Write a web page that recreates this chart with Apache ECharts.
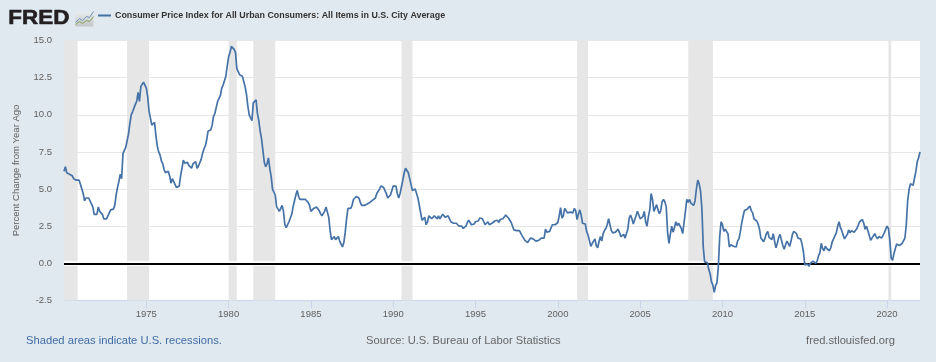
<!DOCTYPE html>
<html>
<head>
<meta charset="utf-8">
<title>FRED CPI</title>
<script src="https://cdn.jsdelivr.net/npm/echarts@6/dist/echarts.min.js"></script>
<style>
    html, body { margin: 0; padding: 0; background: #e1e9f0; }
    #chart { width: 936px; height: 362px; }
</style>
</head>
<body>
<div id="chart"></div>
<script>
    var seriesName = 'Consumer Price Index for All Urban Consumers: All Items in U.S. City Average';
    var firstYear = 1970;
    // percent change from year ago, monthly (one row per year)
    var cpiYoY = [
        6.2, 6.5, 6.1, 6.0, 6.0, 5.9, 5.9, 5.7, 5.7, 5.6, 5.6, 5.6,
        5.3, 5.0, 4.7, 4.2, 4.4, 4.45, 4.4, 4.4, 4.0, 3.8, 3.3, 3.3,
        3.3, 3.8, 3.5, 3.5, 3.3, 3.0, 3.0, 3.0, 3.2, 3.4, 3.6, 3.5,
        3.65, 3.9, 4.6, 5.1, 5.5, 6.0, 5.7, 7.4, 7.4, 7.8, 8.25, 8.7,
        9.4, 10.0, 10.2, 10.1, 10.7, 10.9, 11.5, 10.9, 11.9, 12.0, 12.2, 12.0,
        11.8, 11.2, 10.25, 10.2, 9.3, 9.2, 9.5, 8.6, 7.9, 7.5, 7.3, 6.9,
        6.7, 6.3, 6.1, 6.0, 6.2, 5.9, 5.4, 5.7, 5.5, 5.4, 5.1, 5.1,
        5.2, 5.9, 6.4, 6.95, 6.75, 6.85, 6.8, 6.6, 6.6, 6.4, 6.7, 6.7,
        6.85, 6.4, 6.55, 6.5, 7.0, 7.4, 7.7, 7.9, 8.3, 8.9, 8.9, 9.0,
        9.3, 9.9, 10.1, 10.5, 10.9, 10.9, 11.3, 11.8, 12.0, 12.0, 12.6, 13.3,
        13.9, 14.2, 14.6, 14.6, 14.4, 14.2, 13.1, 12.9, 12.7, 12.7, 12.6, 12.5,
        11.9, 11.4, 10.6, 10.0, 9.8, 9.6, 10.8, 10.8, 11.0, 10.1, 9.6, 8.9,
        8.4, 7.6, 6.8, 6.5, 6.7, 7.1, 6.4, 5.85, 5.0, 5.1, 4.6, 3.8,
        3.7, 3.5, 3.6, 3.9, 3.5, 2.6, 2.4, 2.5, 2.8, 2.9, 3.3, 3.8,
        4.2, 4.6, 4.9, 4.5, 4.3, 4.3, 4.3, 4.3, 4.3, 4.2, 4.1, 3.9,
        3.5, 3.6, 3.7, 3.6, 3.8, 3.7, 3.55, 3.35, 3.2, 3.2, 3.5, 3.8,
        3.9, 3.1, 2.2, 1.6, 1.5, 1.8, 1.6, 1.6, 1.8, 1.5, 1.3, 1.1,
        1.4, 2.1, 3.0, 3.7, 3.8, 3.7, 3.9, 4.3, 4.3, 4.5, 4.5, 4.4,
        4.1, 3.9, 3.9, 3.9, 3.9, 4.0, 4.1, 4.1, 4.2, 4.25, 4.3, 4.4,
        4.7, 4.8, 5.0, 5.2, 5.3, 5.1, 5.0, 4.7, 4.4, 4.5, 4.6, 4.6,
        5.2, 5.3, 5.2, 4.7, 4.4, 4.7, 4.8, 5.6, 6.1, 6.4, 6.3, 6.1,
        5.7, 5.3, 4.9, 4.9, 5.0, 4.7, 4.4, 3.9, 3.4, 2.9, 3.0, 3.1,
        2.6, 2.8, 3.2, 3.1, 3.0, 3.1, 3.2, 3.1, 3.0, 3.2, 3.0, 2.9,
        3.3, 3.2, 3.1, 3.2, 3.2, 3.0, 2.8, 2.8, 2.7, 2.8, 2.7, 2.75,
        2.5, 2.5, 2.5, 2.35, 2.3, 2.5, 2.75, 2.9, 2.95, 2.6, 2.7, 2.65,
        2.8, 2.85, 2.85, 3.05, 3.15, 3.0, 2.8, 2.6, 2.55, 2.8, 2.6, 2.6,
        2.7, 2.7, 2.85, 2.9, 2.9, 2.75, 2.95, 2.9, 3.0, 3.0, 3.25, 3.35,
        3.05, 3.0, 2.75, 2.5, 2.25, 2.3, 2.2, 2.2, 2.2, 2.1, 1.85, 1.7,
        1.55, 1.45, 1.4, 1.45, 1.7, 1.7, 1.65, 1.6, 1.5, 1.5, 1.55, 1.6,
        1.7, 1.6, 1.7, 2.3, 2.1, 2.0, 2.15, 2.25, 2.6, 2.55, 2.6, 2.7,
        2.75, 3.2, 3.75, 3.05, 3.2, 3.7, 3.65, 3.4, 3.45, 3.45, 3.45, 3.4,
        3.7, 3.55, 2.95, 3.3, 3.6, 3.25, 2.7, 2.7, 2.65, 2.15, 1.9, 1.55,
        1.15, 1.15, 1.5, 1.65, 1.2, 1.05, 1.45, 1.8, 1.5, 2.0, 2.2, 2.35,
        2.6, 3.0, 3.05, 2.2, 2.05, 2.1, 2.1, 2.15, 2.3, 2.05, 1.8, 1.9,
        1.95, 1.7, 1.75, 2.3, 3.05, 3.25, 3.0, 2.65, 2.55, 3.2, 3.5, 3.25,
        3.0, 3.0, 3.15, 3.5, 2.8, 2.5, 3.15, 3.6, 4.7, 4.3, 3.5, 3.4,
        3.95, 3.6, 3.35, 3.55, 4.15, 4.3, 4.15, 3.8, 2.1, 1.35, 1.95, 2.5,
        2.1, 2.4, 2.8, 2.55, 2.7, 2.7, 2.35, 2.0, 2.75, 3.5, 4.3, 4.1,
        4.3, 4.05, 4.0, 3.9, 4.2, 5.0, 5.6, 5.35, 4.9, 3.7, 1.1, 0.1,
        0.05, 0.05, -0.4, -0.7, -1.25, -1.45, -1.95, -1.5, -1.3, -0.2, 1.8, 2.8,
        2.6, 2.15, 2.3, 2.25, 2.0, 1.1, 1.25, 1.15, 1.15, 1.2, 1.1, 1.5,
        1.65, 2.1, 2.7, 3.15, 3.55, 3.55, 3.65, 3.75, 3.85, 3.55, 3.4, 3.0,
        2.9, 2.85, 2.65, 2.3, 1.7, 1.65, 1.45, 1.7, 2.0, 2.15, 1.75, 1.75,
        1.6, 2.0, 1.5, 1.05, 1.35, 1.75, 1.95, 1.55, 1.2, 0.95, 1.25, 1.5,
        1.6, 1.15, 1.5, 1.95, 2.15, 2.05, 2.0, 1.7, 1.65, 1.65, 1.3, 0.8,
        -0.1, -0.05, -0.05, -0.2, 0.0, 0.1, 0.15, 0.2, 0.0, 0.15, 0.5, 0.7,
        1.35, 1.0, 0.85, 1.15, 1.0, 1.0, 0.85, 1.05, 1.45, 1.65, 1.7, 2.05,
        2.5, 2.8, 2.4, 2.2, 1.9, 1.65, 1.75, 1.95, 2.25, 2.05, 2.2, 2.1,
        2.1, 2.2, 2.35, 2.45, 2.8, 2.85, 2.95, 2.7, 2.3, 2.5, 2.2, 1.9,
        1.55, 1.5, 1.85, 2.0, 1.8, 1.65, 1.8, 1.75, 1.7, 1.75, 2.05, 2.3,
        2.5, 2.35, 1.55, 0.35, 0.2, 0.65, 1.0, 1.3, 1.4, 1.2, 1.15, 1.35,
        1.4, 1.7, 2.6, 4.2, 4.95, 5.35, 5.3, 5.25, 5.35, 6.2, 6.85, 7.1,
        7.5
    ];
    // U.S. recessions as fractional years (first one is clipped at the axis start)
    var recessionStart = [1970, 1973.83, 1980, 1981.5, 1990.5, 2001.17, 2007.92, 2020.08];
    var recessionEnd = [1970.83, 1975.17, 1980.5, 1982.83, 1991.17, 2001.83, 2009.42, 2020.25];
    var tickYears = [1975, 1980, 1985, 1990, 1995, 2000, 2005, 2010, 2015, 2020];

    var lineData = cpiYoY.map(function (v, i) {
        return [firstYear + i / 12, v];
    });
    var recessionAreas = recessionStart.map(function (s, i) {
        return [{ xAxis: s }, { xAxis: recessionEnd[i] }];
    });

    var myChart = echarts.init(document.getElementById('chart'));
    var font = '"Liberation Sans", Arial, sans-serif';
    myChart.setOption({
        animation: false,
        backgroundColor: '#e1e9f0',
        textStyle: { fontFamily: font },
        grid: { show: true, backgroundColor: '#ffffff', borderWidth: 0, left: 64, right: 16, top: 40.5, height: 260 },
        title: [
            { text: 'Shaded areas indicate U.S. recessions.', left: 26, top: 335, padding: 0,
                textStyle: { fontSize: 11.2, fontWeight: 'normal', color: '#3f6ca6', fontFamily: font } },
            { text: 'Source: U.S. Bureau of Labor Statistics', left: 366, top: 335, padding: 0,
                textStyle: { fontSize: 11.2, fontWeight: 'normal', color: '#666666', fontFamily: font } },
            { text: 'fred.stlouisfed.org', right: 41, top: 335, padding: 0,
                textStyle: { fontSize: 11.2, fontWeight: 'normal', color: '#666666', fontFamily: font } }
        ],
        legend: {
            left: 98, top: 11, padding: 0,
            data: [seriesName],
            icon: 'rect', itemWidth: 13, itemHeight: 2, itemGap: 0,
            selectedMode: false,
            textStyle: { fontSize: 8.9, fontWeight: 'bold', color: '#333333', fontFamily: font, padding: [0, 0, 0, -1] }
        },
        xAxis: {
            type: 'value',
            min: firstYear,
            max: firstYear + (cpiYoY.length - 1) / 12,
            splitLine: { show: false },
            axisLine: { onZero: false, lineStyle: { color: '#ccd6eb', width: 1 } },
            axisTick: { show: true, length: 8, customValues: tickYears, lineStyle: { color: '#ccd6eb', width: 1 } },
            axisLabel: {
                customValues: tickYears,
                formatter: function (v) { return String(v); },
                fontSize: 9.5, color: '#606060', margin: 9, hideOverlap: false
            }
        },
        yAxis: {
            type: 'value',
            min: -2.5, max: 15, interval: 2.5,
            name: 'Percent Change from Year Ago',
            nameLocation: 'middle',
            nameGap: 43,
            nameTextStyle: { fontSize: 9.5, color: '#606060' },
            axisLine: { show: false },
            axisTick: { show: false },
            splitLine: { lineStyle: { color: '#e6e6e6', width: 1 } },
            axisLabel: {
                formatter: function (v) { return v.toFixed(1); },
                fontSize: 9.5, color: '#606060', margin: 12, padding: [2, 0, 0, 0]
            }
        },
        series: [
            {
                name: 'Recessions', type: 'line', data: [], z: 1, silent: true,
                markArea: { silent: true, itemStyle: { color: '#e6e6e6', opacity: 1 }, data: recessionAreas },
                markLine: {
                    z: 2, silent: true, symbol: 'none', label: { show: false }, animation: false,
                    data: [
                        { yAxis: 0, lineStyle: { color: '#ffffff', width: 4.5, type: 'solid', opacity: 1 } },
                        { yAxis: 0, lineStyle: { color: '#000000', width: 2, type: 'solid', opacity: 1 } }
                    ]
                }
            },
            {
                name: seriesName, type: 'line', data: lineData, z: 3,
                showSymbol: false, symbol: 'none',
                lineStyle: { color: '#4572a7', width: 1.7 },
                itemStyle: { color: '#4572a7' }
            }
        ],
        graphic: [
            { type: 'text', left: 8, top: 8, scaleX: 1.12,
                style: { text: 'FRED', fill: '#231f20', stroke: '#231f20', lineWidth: 0.6, font: 'bold 20px ' + font } },
            { type: 'group', left: 73, top: 9, children: [
                { type: 'rect', shape: { x: 0, y: 0, width: 18, height: 15 },
                    style: { fill: { type: 'linear', x: 0, y: 0, x2: 0, y2: 1, colorStops: [{ offset: 0, color: '#e8edf0' }, { offset: 1, color: '#c2c6c8' }] } } },
                { type: 'polyline', shape: { points: [[0, 11], [4, 7], [7, 9], [11, 5], [14, 6], [18, 0]] },
                    style: { fill: null, stroke: '#6f8fb5', lineWidth: 1 } },
                { type: 'polyline', shape: { points: [[0, 13], [4, 10], [7, 12], [11, 9], [14, 10], [18, 5]] },
                    style: { fill: null, stroke: '#7fa04c', lineWidth: 1 } }
            ] }
        ]
    });
</script>
</body>
</html>
